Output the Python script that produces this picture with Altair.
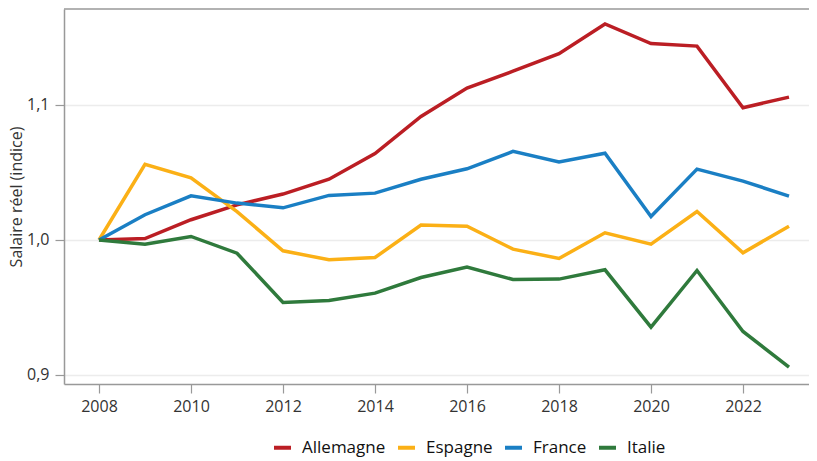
import altair as alt
import pandas as pd

years = list(range(2008, 2024))
allemagne = [1.000, 1.001, 1.015, 1.026, 1.034, 1.045, 1.064, 1.0915, 1.1125, 1.125, 1.138, 1.160, 1.1455, 1.1436, 1.098, 1.1058]
espagne = [1.000, 1.056, 1.046, 1.021, 0.992, 0.9853, 0.987, 1.011, 1.0102, 0.9932, 0.9863, 1.0053, 0.9969, 1.0211, 0.9905, 1.0102]
france = [1.000, 1.0187, 1.0327, 1.0273, 1.0238, 1.033, 1.0347, 1.045, 1.0527, 1.0656, 1.0577, 1.0643, 1.0174, 1.0525, 1.0436, 1.0325]
italie = [1.000, 0.9969, 1.0026, 0.9902, 0.9537, 0.9552, 0.9606, 0.9722, 0.9799, 0.9707, 0.971, 0.9779, 0.9354, 0.9774, 0.9322, 0.9058]

countries = ["Allemagne", "Espagne", "France", "Italie"]
colors = ["#bb1e24", "#fbb016", "#1a7fc4", "#2f7a3c"]
series = [allemagne, espagne, france, italie]

rows = []
for c, vals in zip(countries, series):
    for y, v in zip(years, vals):
        rows.append({"Année": y, "Pays": c, "Valeur": v})
df = pd.DataFrame(rows)

W, H = 745, 375
FONT = "Open Sans"

x = alt.X("Année:Q",
          scale=alt.Scale(domain=[2007.239, 2023.435], nice=False, zero=False),
          axis=alt.Axis(title=None, values=list(range(2008, 2024, 2)), format="d",
                        grid=False, domainColor="#999999", domainWidth=1.5,
                        tickColor="#999999", tickWidth=1.2, tickSize=9,
                        labelFontSize=16, labelColor="#333333", labelFont=FONT,
                        labelPadding=5))
y = alt.Y("Valeur:Q",
          scale=alt.Scale(domain=[0.8933, 1.1711], nice=False, zero=False),
          axis=alt.Axis(title="Salaire réel (indice)", values=[0.9, 1.0, 1.1],
                        labelExpr="replace(format(datum.value, '.1f'), '.', ',')",
                        gridColor="#ececec", gridWidth=1.5,
                        domainColor="#999999", domainWidth=1.5,
                        tickColor="#999999", tickWidth=1.2, tickSize=9,
                        labelFontSize=16, labelColor="#333333", labelFont=FONT,
                        labelPadding=6,
                        titleFontSize=16, titleFontWeight="normal", titleColor="#333333",
                        titleFont=FONT, titlePadding=2))

lines = alt.Chart(df).mark_line(strokeWidth=3.5, strokeCap="butt", strokeJoin="miter").encode(
    x=x, y=y,
    color=alt.Color("Pays:N",
                    scale=alt.Scale(domain=countries, range=colors),
                    legend=alt.Legend(title=None, orient="none", direction="horizontal",
                                      legendX=208, legendY=428,
                                      symbolType="stroke", symbolSize=289, symbolStrokeWidth=4,
                                      labelFontSize=17, labelFont=FONT, labelColor="#111111",
                                      labelFontWeight=500,
                                      labelOffset=9, columnPadding=4))
)

top = alt.Chart(pd.DataFrame({"a": [0]})).mark_rule(color="#999999", strokeWidth=1.5).encode(
    x=alt.value(0), x2=alt.value(W + 10), y=alt.value(0)
)

chart = alt.layer(lines, top).properties(
    width=W, height=H,
    autosize=alt.AutoSizeParams(type="none"),
    padding={"left": 56, "top": 1, "right": 0, "bottom": 76},
).configure_view(stroke=None)

chart.save("out.html", embed_options={"renderer": "svg", "actions": False})
